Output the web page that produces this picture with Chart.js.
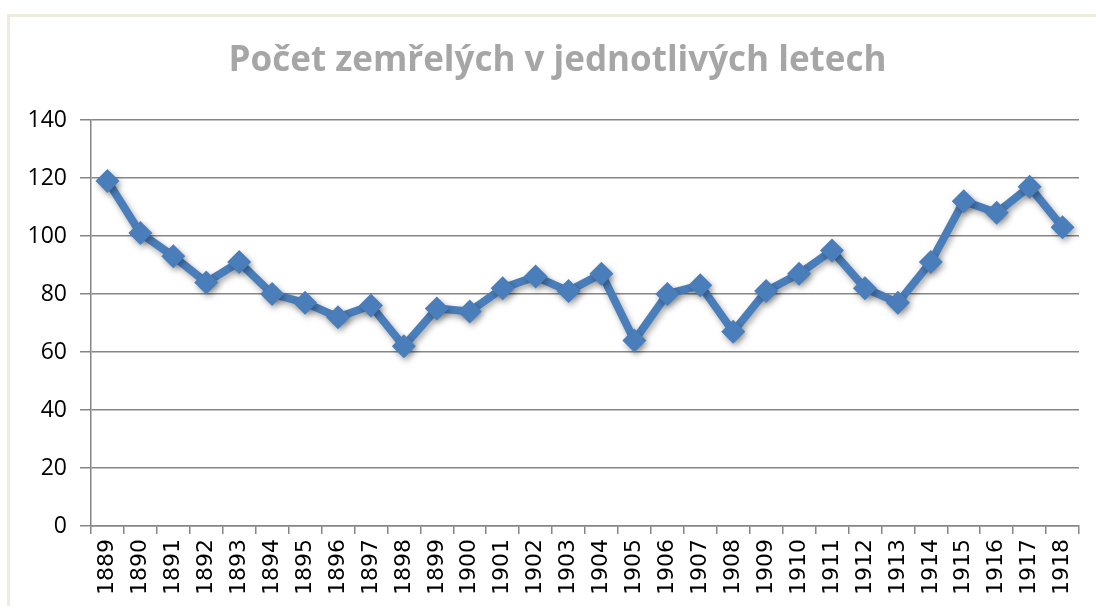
<!DOCTYPE html>
<html>
<head>
<meta charset="utf-8">
<script src="https://cdn.jsdelivr.net/npm/chart.js@4/dist/chart.umd.min.js"></script>
<style>
  html, body { margin: 0; padding: 0; background: #ffffff; overflow: hidden; }
  #wrap { position: absolute; left: 0; top: 0; width: 1096px; height: 606px; }
</style>
</head>
<body>
<div id="wrap"><canvas id="c" width="1096" height="606"></canvas></div>
<script>
const titleText = "Počet zemřelých v jednotlivých letech";
const years = ["1889","1890","1891","1892","1893","1894","1895","1896","1897","1898",
               "1899","1900","1901","1902","1903","1904","1905","1906","1907","1908",
               "1909","1910","1911","1912","1913","1914","1915","1916","1917","1918"];
const deaths = [119, 101, 93, 84, 91, 80, 77, 72, 76, 62,
                75, 74, 82, 86, 81, 87, 64, 80, 83, 67,
                81, 87, 95, 82, 77, 91, 112, 108, 117, 103];
const yTicks = [0, 20, 40, 60, 80, 100, 120, 140];

const framePlugin = {
  id: 'frame',
  afterLayout(chart) {
    // shift the title block slightly right, as in the reference
    if (chart.titleBlock) { chart.titleBlock.left += 18; chart.titleBlock.right += 18; }
  },
  beforeDraw(chart) {
    const ctx = chart.ctx;
    ctx.save();
    ctx.strokeStyle = '#eeece1';
    ctx.lineWidth = 3;
    ctx.strokeRect(8.5, 15.5, 1200, 700);
    ctx.restore();
  }
};
const shadowPlugin = {
  id: 'shadow',
  beforeDatasetsDraw(chart) {
    const ctx = chart.ctx;
    ctx.save();
    ctx.shadowColor = 'rgba(0,0,0,0.35)';
    ctx.shadowBlur = 6;
    ctx.shadowOffsetX = 2;
    ctx.shadowOffsetY = 3;
  },
  afterDatasetsDraw(chart) {
    chart.ctx.restore();
  }
};

new Chart(document.getElementById('c'), {
  type: 'line',
  data: {
    labels: years,
    datasets: [{
      data: deaths,
      borderColor: '#4a7ebb',
      backgroundColor: '#4a7ebb',
      borderWidth: 8,
      pointStyle: 'rectRot',
      pointRadius: 12,
      pointBorderWidth: 0,
      pointBackgroundColor: '#4a7ebb',
      tension: 0,
      fill: false
    }]
  },
  options: {
    responsive: false,
    animation: false,
    events: [],
    layout: { padding: { left: 0, right: 17, top: 0, bottom: 0 } },
    plugins: {
      legend: { display: false },
      tooltip: { enabled: false },
      title: {
        display: true,
        text: titleText,
        color: '#a6a6a6',
        font: { family: '"Open Sans", "DejaVu Sans", sans-serif', size: 35, weight: 'bold', lineHeight: 1.2 },
        padding: { top: 40, bottom: 38 }
      }
    },
    scales: {
      x: {
        type: 'category',
        offset: true,
        grid: { display: true, drawOnChartArea: false, drawTicks: true, tickLength: 8, offset: true, color: '#868686', lineWidth: 1.5 },
        border: { display: true, color: '#868686', width: 1.5 },
        ticks: {
          color: '#000000',
          font: { family: '"DejaVu Sans", sans-serif', size: 22 },
          minRotation: 90, maxRotation: 90,
          autoSkip: false,
          padding: 5
        },
        afterFit(scale) { scale.height = 80; }
      },
      y: {
        min: 0, max: 140,
        afterBuildTicks(scale) { scale.ticks = yTicks.map(v => ({ value: v })); },
        grid: { color: '#868686', lineWidth: 1.5, drawTicks: true, tickLength: 11 },
        border: { display: true, color: '#868686', width: 1.5 },
        ticks: {
          color: '#000000',
          font: { family: '"Open Sans", "DejaVu Sans", sans-serif', size: 23 },
          padding: 13
        },
        afterFit(scale) { scale.width = 91; }
      }
    }
  },
  plugins: [framePlugin, shadowPlugin]
});
</script>
</body>
</html>
